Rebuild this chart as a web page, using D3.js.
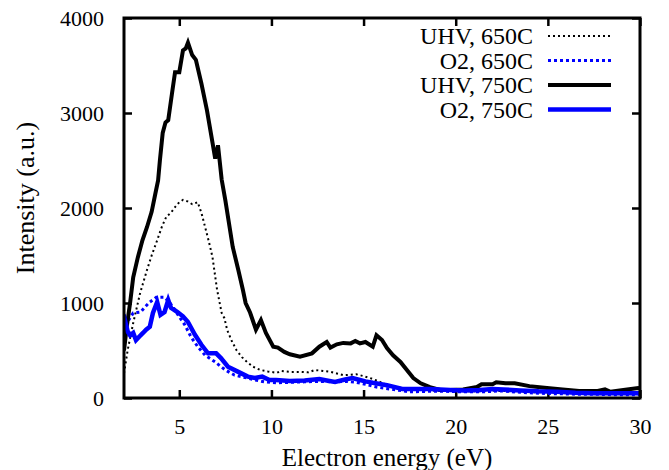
<!DOCTYPE html>
<html>
<head>
<meta charset="utf-8">
<script src="https://cdn.jsdelivr.net/npm/d3@7"></script>
<style>
  html, body { margin: 0; padding: 0; background: #fff; }
</style>
</head>
<body>
<div id="chart"></div>
<script>
// Electron energy (eV) vs intensity (a.u.)
const uhv650 = [[2.0,260],[2.2,505],[2.5,790],[2.87,1100],[3.25,1350],[3.5,1500],[3.8,1660],[4.05,1800],[4.3,1910],[4.55,1950],[4.77,2010],[5.0,2060],[5.2,2085],[5.45,2070],[5.7,2040],[6.0,2060],[6.2,1950],[6.4,1800],[6.6,1650],[6.8,1485],[7.05,1140],[7.3,895],[7.45,840],[7.6,715],[7.85,600],[8.1,505],[8.4,430],[8.67,380],[9.0,330],[9.4,295],[9.8,280],[10.3,265],[10.5,285],[11.0,275],[11.55,275],[12.0,270],[12.36,295],[12.8,285],[13.2,275],[13.6,255],[13.9,240],[14.3,245],[14.6,250],[15.0,230],[15.35,210],[15.7,185],[16.05,155],[16.4,130],[16.8,115],[17.5,95],[18.0,85],[18.6,75],[19.7,75],[20.5,70],[21.5,70],[22.5,75],[23.5,65],[24.5,60],[25.5,55],[26.5,50],[27.5,50],[28.5,45],[29.5,50],[30,50]]

const o2650 = [[2.0,700],[2.05,735],[2.25,820],[2.5,895],[2.9,905],[3.15,960],[3.4,1010],[3.75,1060],[4.2,1060],[4.45,1010],[4.65,960],[5.0,855],[5.3,770],[5.63,645],[6.0,540],[6.4,450],[6.94,380],[7.2,340],[7.5,295],[8.0,240],[8.7,210],[9.1,190],[9.6,170],[10.25,160],[11.0,165],[11.8,170],[12.6,175],[13.4,170],[14.0,175],[14.6,165],[15.2,140],[15.7,115],[16.4,95],[17.5,65],[18.5,70],[19.5,70],[20.5,65],[21.5,65],[22.5,75],[23.5,60],[24.5,50],[25.5,45],[26.5,40],[27.5,40],[28.5,35],[29.5,35],[30,35]]

const uhv750 = [[2.0,500],[2.15,750],[2.33,1000],[2.5,1270],[2.75,1480],[3.0,1660],[3.25,1800],[3.5,1960],[3.7,2150],[3.85,2290],[3.95,2505],[4.1,2790],[4.25,2900],[4.4,2925],[4.6,3200],[4.77,3430],[5.0,3430],[5.2,3660],[5.35,3680],[5.47,3740],[5.7,3610],[5.9,3560],[6.2,3310],[6.5,3030],[6.8,2690],[6.95,2520],[7.1,2660],[7.3,2300],[7.5,2080],[7.9,1590],[8.2,1350],[8.45,1140],[8.6,1000],[8.84,900],[9.16,720],[9.43,820],[9.7,685],[10.1,540],[10.35,530],[10.7,485],[11.0,460],[11.55,435],[12.2,470],[12.6,540],[13.0,590],[13.2,530],[13.55,565],[13.9,580],[14.3,575],[14.55,600],[14.8,575],[15.1,590],[15.5,540],[15.7,660],[16.0,610],[16.27,525],[16.6,450],[17.0,380],[17.35,295],[17.7,210],[18.1,155],[18.6,115],[19.15,85],[19.7,85],[20.4,90],[21.15,115],[21.4,145],[22.0,145],[22.2,165],[22.7,155],[23.2,155],[24.0,125],[24.95,105],[25.8,90],[26.7,75],[27.7,75],[28.1,90],[28.4,65],[29.1,85],[29.9,105],[30,100]]

const o2750 = [[2.0,800],[2.05,820],[2.2,700],[2.33,660],[2.5,685],[2.65,610],[2.85,650],[3.03,685],[3.2,720],[3.4,750],[3.57,895],[3.8,1010],[3.98,875],[4.2,905],[4.4,1030],[4.55,950],[4.9,905],[5.2,860],[5.47,800],[5.85,665],[6.2,560],[6.56,470],[7.0,470],[7.26,420],[7.64,330],[8.2,275],[8.72,225],[9.1,210],[9.5,225],[9.9,190],[10.25,190],[11.0,180],[11.8,185],[12.6,200],[13.0,185],[13.45,170],[14.0,195],[14.4,210],[14.8,190],[15.1,175],[15.5,160],[16.27,135],[17.1,95],[17.8,95],[18.6,95],[19.7,85],[20.5,80],[21.3,85],[22.0,95],[22.6,90],[23.5,80],[24.5,70],[25.5,65],[26.5,55],[27.5,50],[28.5,50],[29.5,50],[30,50]]

const xTicks = [5, 10, 15, 20, 25, 30]
const yTicks = [0, 1000, 2000, 3000, 4000]

const series = [
  { name: 'UHV, 650C', data: uhv650, color: '#000', width: 2, dash: '2,3' },
  { name: 'O2, 650C', data: o2650, color: '#0000ff', width: 3, dash: '3,3' },
  { name: 'UHV, 750C', data: uhv750, color: '#000', width: 4, dash: null },
  { name: 'O2, 750C', data: o2750, color: '#0000ff', width: 4.5, dash: null }
]

const FONT = '"Liberation Serif", "Times New Roman", serif'
const W = 669, H = 470
const margin = { top: 18, right: 29, bottom: 72, left: 124 }
const plotW = W - margin.left - margin.right
const plotH = H - margin.top - margin.bottom

const svg = d3.select('#chart').append('svg')
  .attr('width', W).attr('height', H)
  .style('display', 'block')
  .attr('font-family', FONT)

const x = d3.scaleLinear().domain([2, 30]).range([0, plotW])
const y = d3.scaleLinear().domain([0, 4000]).range([plotH, 0])

const g = svg.append('g').attr('transform', `translate(${margin.left},${margin.top})`)

g.append('defs').append('clipPath').attr('id', 'plot-clip')
  .append('rect').attr('width', plotW).attr('height', plotH)

// Axes with inward ticks (top/right mirror the bottom/left)
const TICK = 8
g.append('g').attr('transform', `translate(0,${plotH})`)
  .call(d3.axisBottom(x).tickValues(xTicks).tickSize(-TICK).tickPadding(20).tickFormat(d3.format('d')))
g.append('g')
  .call(d3.axisTop(x).tickValues(xTicks).tickSize(-TICK).tickFormat(''))
g.append('g')
  .call(d3.axisLeft(y).tickValues(yTicks).tickSize(-TICK).tickPadding(20).tickFormat(d3.format('d')))
g.append('g').attr('transform', `translate(${plotW},0)`)
  .call(d3.axisRight(y).tickValues(yTicks).tickSize(-TICK).tickFormat(''))

g.selectAll('.domain').remove()
g.selectAll('.tick line').attr('stroke', '#000').attr('stroke-width', 2.5)
g.selectAll('g').filter(function() { return this.hasAttribute('font-family') })
  .attr('font-family', FONT).attr('font-size', 22)
g.selectAll('.tick text').attr('fill', '#000')

// Curves
const line = d3.line().x(d => x(d[0])).y(d => y(d[1]))
const curves = g.append('g').attr('clip-path', 'url(#plot-clip)')
series.forEach(s => {
  curves.append('path').datum(s.data)
    .attr('d', line)
    .attr('fill', 'none')
    .attr('stroke', s.color)
    .attr('stroke-width', s.width)
    .attr('stroke-linejoin', 'miter')
    .attr('stroke-dasharray', s.dash)
})

// Frame
g.append('rect').attr('width', plotW).attr('height', plotH)
  .attr('fill', 'none').attr('stroke', '#000').attr('stroke-width', 3)

// Legend
const legend = svg.append('g').attr('transform', 'translate(533,36)')
series.forEach((s, i) => {
  const row = legend.append('g').attr('transform', `translate(0,${i * 24.5})`)
  row.append('text').attr('x', 0).attr('y', 0).attr('dy', '0.35em')
    .attr('text-anchor', 'end').attr('font-size', 24).text(s.name)
  row.append('line').attr('x1', 15).attr('x2', 78).attr('y1', 0).attr('y2', 0)
    .attr('stroke', s.color).attr('stroke-width', s.width)
    .attr('stroke-dasharray', s.dash)
})

// Axis titles
svg.append('text').attr('x', margin.left + plotW / 2 + 5).attr('y', 466)
  .attr('text-anchor', 'middle').attr('font-size', 25).text('Electron energy (eV)')
svg.append('text')
  .attr('transform', `translate(34,${margin.top + plotH / 2 - 10}) rotate(-90)`)
  .attr('text-anchor', 'middle').attr('font-size', 26).text('Intensity (a.u.)')
</script>
</body>
</html>
